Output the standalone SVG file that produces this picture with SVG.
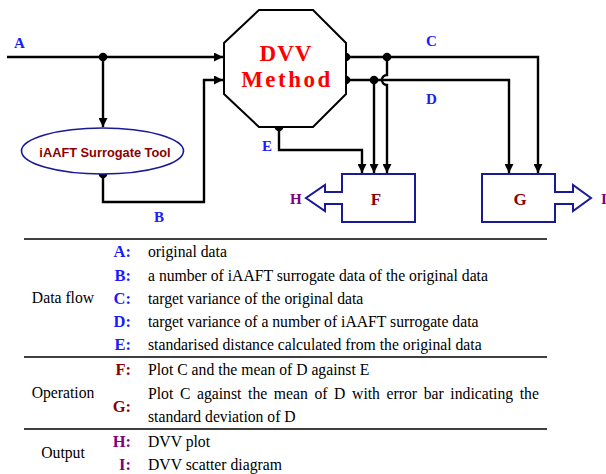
<svg xmlns="http://www.w3.org/2000/svg" width="606" height="474" viewBox="0 0 606 474">
<style>
.ln{fill:none;stroke:#000;stroke-width:2.4}
.dot{fill:#000}
.serif{font-family:"Liberation Serif","Times New Roman",Times,"DejaVu Serif",serif}
.lbl{font-weight:bold;font-size:15px;fill:#1a1aff}
.dr{fill:#8b0000}
.pu{fill:#800080}
.box{fill:#fff;stroke:#1a1a99;stroke-width:2}
.tx{font-size:15.7px;fill:#000}
.key{font-weight:bold;font-size:16.5px;text-anchor:end}
.rule{stroke:#000;stroke-width:1.3}
</style>
<defs>
<marker id="ah" viewBox="0 0 10 10" refX="10" refY="5" markerWidth="10" markerHeight="9" markerUnits="userSpaceOnUse" orient="auto">
<path d="M0,0 L10,5 L0,10 Z" fill="#000"/>
</marker>
</defs>
<rect width="606" height="474" fill="#fff"/>

<g id="connectors">
<path class="ln" d="M7,57 H223" marker-end="url(#ah)"/>
<path class="ln" d="M103,57 V127" marker-end="url(#ah)"/>
<path class="ln" d="M103,174 V202 H204 V80 H223" marker-end="url(#ah)"/>
<path class="ln" d="M279,127 V150 H362 V173" marker-end="url(#ah)"/>
<path class="ln" d="M346,57 H538 V173" marker-end="url(#ah)"/>
<path class="ln" d="M346,80 H509 V173" marker-end="url(#ah)"/>
<path class="ln" d="M374,80 V173" marker-end="url(#ah)"/>
<path class="ln" d="M387,57 V75 A5,5 0 0 0 387,85 V173" marker-end="url(#ah)"/>
<circle class="dot" cx="103" cy="57" r="4.3"/>
<circle class="dot" cx="103" cy="174" r="4.3"/>
<circle class="dot" cx="279" cy="127" r="4.3"/>
<circle class="dot" cx="346" cy="57" r="4.3"/>
<circle class="dot" cx="346" cy="80" r="4.3"/>
<circle class="dot" cx="374" cy="80" r="4.3"/>
<circle class="dot" cx="387" cy="57" r="4.3"/>
<text class="serif lbl" x="14" y="48">A</text>
<text class="serif lbl" x="154" y="222">B</text>
<text class="serif lbl" x="426" y="46">C</text>
<text class="serif lbl" x="426" y="104">D</text>
<text class="serif lbl" x="262" y="151">E</text>
</g>

<g id="dvv">
<polygon points="259,10 313,10 346,43 346,94 313,127 259,127 224,94 224,43" fill="#fff" stroke="#000" stroke-width="2"/>
<text class="serif" x="286" y="61" text-anchor="middle" font-weight="bold" font-size="23" letter-spacing="1" fill="#ff0000">DVV</text>
<text class="serif" x="287" y="87" text-anchor="middle" font-weight="bold" font-size="23" letter-spacing="2.5" fill="#ff0000">Method</text>
</g>

<g id="iaaft">
<ellipse cx="102.5" cy="151" rx="81" ry="23" fill="#fff" stroke="#1a1a99" stroke-width="1.6"/>
<text x="105" y="157" text-anchor="middle" font-family="'Liberation Sans',Arial,sans-serif" font-weight="bold" font-size="12.8" fill="#8b0000">iAAFT Surrogate Tool</text>
</g>

<g id="F">
<polygon class="box" points="342,174 415,174 415,222 342,222 342,204 325,204 325,211 306,198 325,185 325,192 342,192"/>
<text class="serif dr" x="376" y="205" text-anchor="middle" font-weight="bold" font-size="17">F</text>
</g>

<g id="G">
<polygon class="box" points="482,174 555,174 555,192 573,192 573,185 591,198 573,211 573,204 555,204 555,222 482,222"/>
<text class="serif dr" x="520" y="205" text-anchor="middle" font-weight="bold" font-size="17">G</text>
</g>

<g id="H"><text class="serif pu" x="290" y="204" font-weight="bold" font-size="15">H</text></g>
<g id="I"><text class="serif pu" x="601" y="204" font-weight="bold" font-size="15">I</text></g>

<g id="table">
<line class="rule" x1="24" y1="239" x2="547" y2="239"/>
<line class="rule" x1="24" y1="357" x2="547" y2="357"/>
<line class="rule" x1="24" y1="429" x2="547" y2="429"/>
<text class="serif tx" x="63" y="303" text-anchor="middle">Data flow</text>
<text class="serif tx" x="63" y="398" text-anchor="middle">Operation</text>
<text class="serif tx" x="63" y="458" text-anchor="middle">Output</text>

<text class="serif key" x="131" y="257" fill="#1a1aff">A:</text>
<text class="serif key" x="131" y="281" fill="#1a1aff">B:</text>
<text class="serif key" x="131" y="304" fill="#1a1aff">C:</text>
<text class="serif key" x="131" y="327" fill="#1a1aff">D:</text>
<text class="serif key" x="131" y="350" fill="#1a1aff">E:</text>
<text class="serif key" x="131" y="375" fill="#8b0000">F:</text>
<text class="serif key" x="131" y="412" fill="#8b0000">G:</text>
<text class="serif key" x="131" y="447" fill="#800080">H:</text>
<text class="serif key" x="131" y="470" fill="#800080">I:</text>

<text class="serif tx" x="148" y="257">original data</text>
<text class="serif tx" x="148" y="281">a number of iAAFT surrogate data of the original data</text>
<text class="serif tx" x="148" y="304">target variance of the original data</text>
<text class="serif tx" x="148" y="327">target variance of a number of iAAFT surrogate data</text>
<text class="serif tx" x="148" y="350">standarised distance calculated from the original data</text>
<text class="serif tx" x="148" y="375">Plot C and the mean of D against E</text>
<text class="serif tx" x="148" y="399" word-spacing="2.7">Plot C against the mean of D with error bar indicating the</text>
<text class="serif tx" x="148" y="422">standard deviation of D</text>
<text class="serif tx" x="148" y="447">DVV plot</text>
<text class="serif tx" x="148" y="470">DVV scatter diagram</text>
</g>
</svg>
